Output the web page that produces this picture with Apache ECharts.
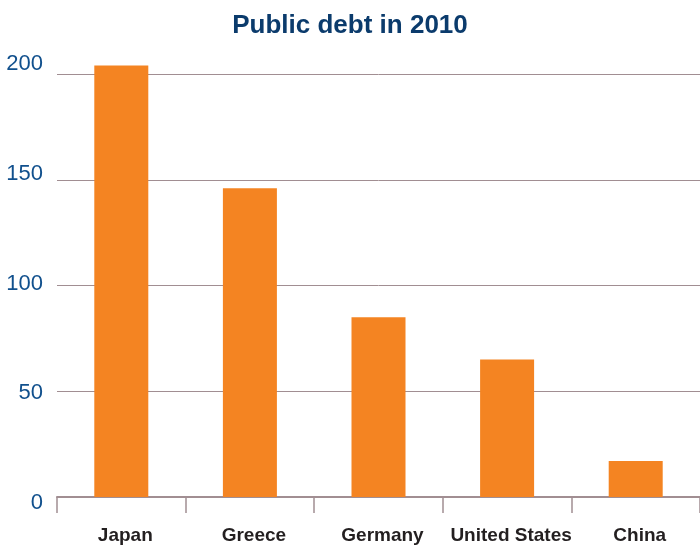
<!DOCTYPE html>
<html>
<head>
<meta charset="utf-8">
<script src="https://cdn.jsdelivr.net/npm/echarts@6/dist/echarts.min.js"></script>
<style>
  html, body { margin: 0; padding: 0; background: #fff; }
  #chart { width: 700px; height: 545px; }
</style>
</head>
<body>
<div id="chart"></div>
<script>
const titleText = 'Public debt in 2010';
const categories = ['Japan', 'Greece', 'Germany', 'United States', 'China'];
const debtValues = [204, 146, 85, 65, 17];
const yMin = 0;
const yMax = 200;
const yStep = 50;

const sans = '"Liberation Sans", Arial, Helvetica, sans-serif';
const lineColor = '#a18e92';

const chart = echarts.init(document.getElementById('chart'), null, { renderer: 'canvas' });
chart.setOption({
  animation: false,
  backgroundColor: '#ffffff',
  title: {
    text: titleText,
    left: 'center',
    top: 8,
    textStyle: {
      fontFamily: sans,
      fontWeight: 'bold',
      fontSize: 26,
      color: '#0b3b6c'
    }
  },
  grid: [
    { left: 57, top: 74, width: 647.5, height: 424.5 },
    { left: 57, top: 64, width: 647.5, height: 439 }
  ],
  xAxis: [
    {
      type: 'category',
      gridIndex: 0,
      data: categories,
      axisLine: { show: true, lineStyle: { color: lineColor, width: 2 } },
      axisTick: { show: true, length: 16, lineStyle: { color: lineColor, width: 1.5 } },
      axisLabel: {
        margin: 29,
        fontFamily: sans,
        fontWeight: 'bold',
        fontSize: 19,
        color: '#231f20',
        interval: 0,
        padding: [0, 0, 0, 8]
      }
    },
    { type: 'value', gridIndex: 1, show: false }
  ],
  yAxis: [
    {
      type: 'value',
      gridIndex: 0,
      min: yMin,
      max: yMax,
      interval: yStep,
      axisLine: { show: false },
      axisTick: { show: false },
      axisLabel: { show: false },
      splitLine: { show: true, lineStyle: { color: lineColor, width: 1 } }
    },
    {
      type: 'value',
      gridIndex: 1,
      min: yMin,
      max: yMax,
      interval: yStep,
      axisLine: { show: false },
      axisTick: { show: false },
      splitLine: { show: false },
      axisLabel: {
        margin: 14,
        fontFamily: sans,
        fontSize: 22,
        color: '#11508d'
      }
    }
  ],
  series: [
    {
      type: 'bar',
      xAxisIndex: 0,
      yAxisIndex: 0,
      data: debtValues,
      barWidth: 54,
      clip: false,
      itemStyle: { color: '#f48422' }
    }
  ]
});
</script>
</body>
</html>
